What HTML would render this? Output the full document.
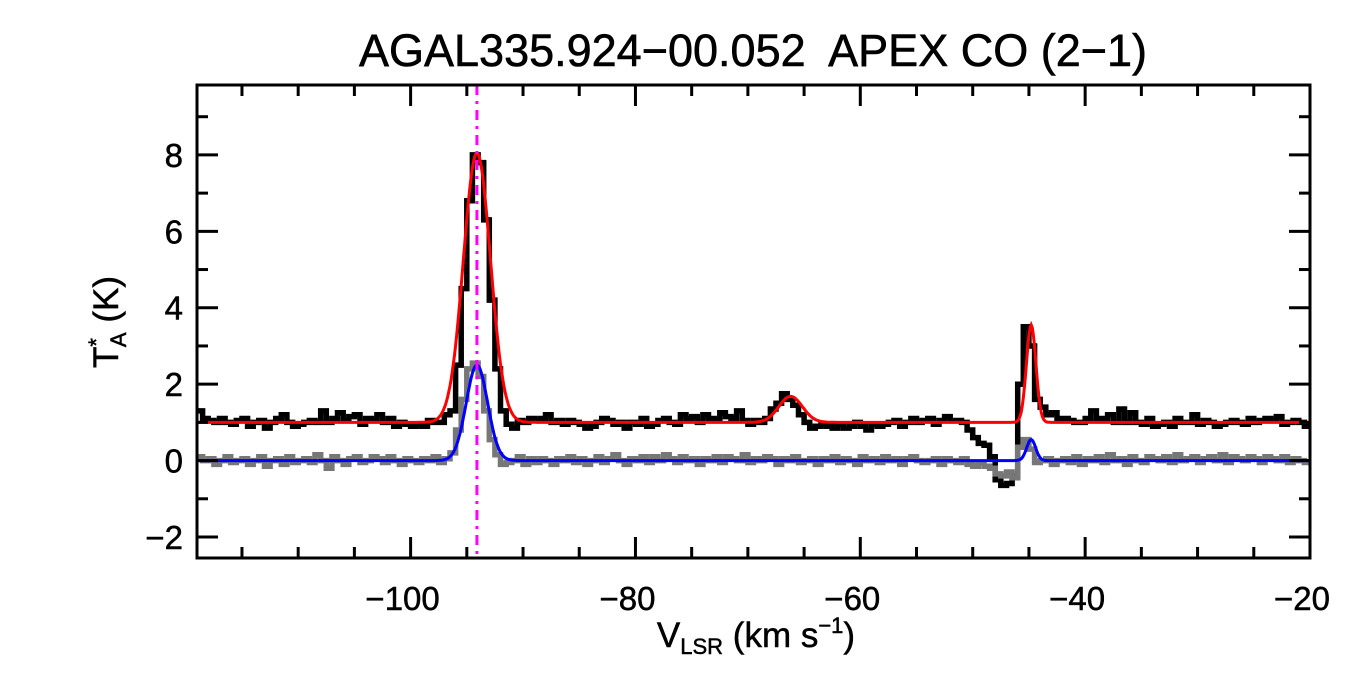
<!DOCTYPE html>
<html><head><meta charset="utf-8"><style>
html,body{margin:0;padding:0;background:#fff;}
svg{display:block;font-family:"Liberation Sans",sans-serif;}
</style></head><body>
<svg id="chart" width="1350" height="675" viewBox="0 0 1350 675" xmlns="http://www.w3.org/2000/svg">
<rect width="1350" height="675" fill="#fff"/>
<text x="753" y="66" font-size="45" stroke="#000" stroke-width="0.6" text-anchor="middle" xml:space="preserve">AGAL335.924−00.052  APEX CO (2−1)</text>
<g id="plot"></g>
<text x="756" y="647" font-size="35" stroke="#000" stroke-width="0.5" text-anchor="middle">V<tspan font-size="22" dy="7">LSR</tspan><tspan dy="-7"> (km s</tspan><tspan font-size="22" dy="-14">−1</tspan><tspan dy="14">)</tspan></text>
<text transform="translate(118,322) rotate(-90)" font-size="35" stroke="#000" stroke-width="0.5" text-anchor="middle">T<tspan font-size="22" dy="-14">*</tspan><tspan font-size="22" dx="-9" dy="22">A</tspan><tspan dy="-8"> (K)</tspan></text>
</svg>
<script>
const xStart = -119.0;
const chanWidth = 0.5;
const blackSpectrum = [
1.3,1.1,1.05,1.0,1.1,1.0,0.95,1.05,1.1,0.9,
1.0,1.05,0.85,1.0,1.1,1.2,1.0,0.9,0.95,1.0,
1.05,1.0,1.3,1.0,1.1,1.25,1.05,1.15,1.2,0.95,
1.1,1.05,1.2,1.0,1.1,0.9,1.0,0.95,0.9,0.95,
0.9,1.05,1.0,1.0,1.2,1.3,2.5,4.5,6.8,8.0,
7.8,6.3,4.2,2.4,1.3,0.95,0.85,1.05,1.0,1.1,
1.05,1.1,1.2,1.0,1.05,0.95,1.05,1.0,0.95,0.85,
0.9,1.0,1.1,1.05,0.95,1.0,0.85,1.0,0.95,1.1,
0.9,0.95,1.05,1.1,1.0,0.95,1.2,1.1,1.15,1.0,
1.2,1.1,1.05,1.25,1.15,1.1,1.3,1.05,0.95,1.05,
1.0,1.1,1.35,1.5,1.75,1.6,1.45,1.2,1.0,0.85,
0.9,0.95,0.9,0.85,0.95,0.85,0.9,1.0,0.9,0.8,
0.95,0.9,0.95,1.0,1.05,0.9,1.0,1.1,1.0,1.05,
1.1,0.95,1.05,1.15,1.05,1.05,1.0,0.8,0.6,0.45,
0.4,0.1,-0.5,-0.65,-0.6,-0.4,2.0,3.5,3.0,1.6,
1.4,1.2,1.25,1.1,1.1,1.05,1.0,1.0,1.1,1.3,
1.1,1.1,1.2,1.0,1.35,1.0,1.25,1.0,0.95,1.1,
0.9,0.95,1.0,0.9,1.1,1.0,1.0,1.2,0.95,1.05,
1.0,0.9,0.95,1.0,1.05,1.0,0.95,1.1,1.0,1.05,
1.1,1.05,1.15,0.95,1.0,1.05,1.0,0.9];
const graySpectrum = [
0.1,0.0,0.05,-0.1,0.0,0.1,-0.05,0.0,0.05,-0.1,
0.0,0.1,-0.15,0.0,0.05,-0.1,0.1,-0.05,0.0,0.05,
-0.05,0.15,0.0,-0.2,0.1,0.0,-0.1,0.05,0.1,-0.05,
0.0,0.1,0.05,-0.05,0.1,0.0,-0.1,0.05,0.0,-0.05,
0.05,0.0,0.1,-0.05,0.05,0.2,0.8,1.6,2.4,2.55,
2.2,1.3,0.55,0.15,-0.1,-0.05,0.0,0.1,-0.1,0.05,
-0.05,0.05,0.0,-0.1,0.05,0.0,0.1,-0.05,0.05,-0.1,
0.0,0.1,-0.05,0.05,0.15,0.0,-0.1,0.05,0.0,0.1,
-0.05,0.1,0.0,0.15,0.05,-0.05,0.1,0.0,0.05,-0.1,
0.05,0.0,0.1,-0.05,0.1,0.05,0.0,0.15,-0.05,0.05,
0.0,0.1,0.05,-0.1,0.05,0.0,0.1,-0.05,0.0,0.05,
-0.1,0.05,0.0,0.1,-0.05,0.05,0.0,-0.1,0.1,0.0,
0.05,-0.05,0.1,0.0,0.05,-0.1,0.05,0.1,0.0,-0.05,
0.0,0.05,-0.1,0.05,0.0,-0.05,0.05,-0.1,-0.15,-0.05,
-0.15,-0.2,-0.35,-0.4,-0.3,-0.45,0.35,0.55,0.3,-0.05,
0.0,0.05,-0.1,0.0,0.05,-0.05,0.1,-0.1,0.05,0.0,
0.1,-0.05,0.15,0.0,0.05,-0.1,0.1,0.0,-0.05,0.1,
0.05,0.0,0.1,-0.05,0.15,0.0,0.05,0.1,-0.05,0.05,
0.1,0.0,0.15,-0.05,0.1,0.05,0.0,0.1,0.05,-0.05,
0.1,0.05,0.0,0.1,-0.05,0.05,0.0,-0.05];
const redBaseline = 1.0;
const redAmps = [7.05, 0.68, 2.55];
const redCenters = [-94.1, -66.2, -44.8];
const redSigmas = [1.2, 1.05, 0.42];
const blueBaseline = 0.0;
const blueAmps = [2.5, 0.55];
const blueCenters = [-94.1, -44.8];
const blueSigmas = [0.95, 0.4];
const markerVelocity = -94.1;
const xTicks = [-100, -80, -60, -40, -20];
const xTickLabels = ["−100", "−80", "−60", "−40", "−20"];
const yTicks = [-2, 0, 2, 4, 6, 8];
const yTickLabels = ["−2", "0", "2", "4", "6", "8"];

const L=197,R=1310,T=85,B=558;
const xMin=-119.0,xMax=-20.0,yMin=-2.55,yMax=9.83;
const X=v=>L+(v-xMin)/(xMax-xMin)*(R-L);
const Y=v=>B-(v-yMin)/(yMax-yMin)*(B-T);
const NS="http://www.w3.org/2000/svg";
const g=document.getElementById('plot');
function mk(tag,attrs){const e=document.createElementNS(NS,tag);for(const k in attrs)e.setAttribute(k,attrs[k]);g.appendChild(e);return e;}

const clip=document.createElementNS(NS,'clipPath');clip.setAttribute('id','pc');
const cr=document.createElementNS(NS,'rect');cr.setAttribute('x',L);cr.setAttribute('y',T);cr.setAttribute('width',R-L);cr.setAttribute('height',B-T);
clip.appendChild(cr);g.appendChild(clip);

function stepPath(arr){let d='';for(let i=0;i<arr.length;i++){const x0=X(xStart+i*chanWidth),x1=X(xStart+(i+1)*chanWidth),y=Y(arr[i]);d+=(i===0?'M':'L')+x0.toFixed(1)+','+y.toFixed(1)+'L'+x1.toFixed(1)+','+y.toFixed(1);}return d;}
function fitPath(base,amps,cens,sigs){let d='';for(let v=xMin;v<=xMax+1e-9;v+=0.1){let s=base;for(let k=0;k<amps.length;k++)s+=amps[k]*Math.exp(-0.5*Math.pow((v-cens[k])/sigs[k],2));d+=(d?'L':'M')+X(v).toFixed(1)+','+Y(s).toFixed(1);}return d;}

const black=mk('path',{d:stepPath(blackSpectrum),fill:'none',stroke:'#000','stroke-width':5.5,'clip-path':'url(#pc)'});


const gray=mk('path',{d:stepPath(graySpectrum),fill:'none',stroke:'#777','stroke-width':5.5,'clip-path':'url(#pc)'});


const blue=mk('path',{d:fitPath(blueBaseline,blueAmps,blueCenters,blueSigmas),fill:'none',stroke:'#0000ff','stroke-width':3,'clip-path':'url(#pc)'});


const red=mk('path',{d:fitPath(redBaseline,redAmps,redCenters,redSigmas),fill:'none',stroke:'#ff0000','stroke-width':3,'clip-path':'url(#pc)'});


const mline=mk('line',{x1:X(markerVelocity),x2:X(markerVelocity),y1:T,y2:B,stroke:'#ff00ff','stroke-width':3,'stroke-dasharray':'10,6,3,6'});



const frame=mk('rect',{x:L,y:T,width:R-L,height:B-T,fill:'none',stroke:'#000','stroke-width':3});


for(let v=-115;v<=-20;v+=5){const major=(v%20===0);const len=major?21:11;const x=X(v);
 const t1=mk('line',{x1:x,x2:x,y1:B,y2:B-len,stroke:'#000','stroke-width':3});
 
 
 const t2=mk('line',{x1:x,x2:x,y1:T,y2:T+len,stroke:'#000','stroke-width':3});
 
 }
for(let v=-2;v<=9;v+=1){const major=(v%2===0);const len=major?21:11;const y=Y(v);
 const t1=mk('line',{x1:L,x2:L+len,y1:y,y2:y,stroke:'#000','stroke-width':3});
 
 
 const t2=mk('line',{x1:R,x2:R-len,y1:y,y2:y,stroke:'#000','stroke-width':3});
 
 }
xTicks.forEach((v,i)=>{const t=mk('text',{x:X(v)-8,y:610,'font-size':33,stroke:'#000','stroke-width':0.5,'text-anchor':'middle'});t.textContent=xTickLabels[i];
 
 });
yTicks.forEach((v,i)=>{const t=mk('text',{x:183,y:Y(v)+12,'font-size':33,stroke:'#000','stroke-width':0.5,'text-anchor':'end'});t.textContent=yTickLabels[i];
 
 });
</script>
</body></html>
